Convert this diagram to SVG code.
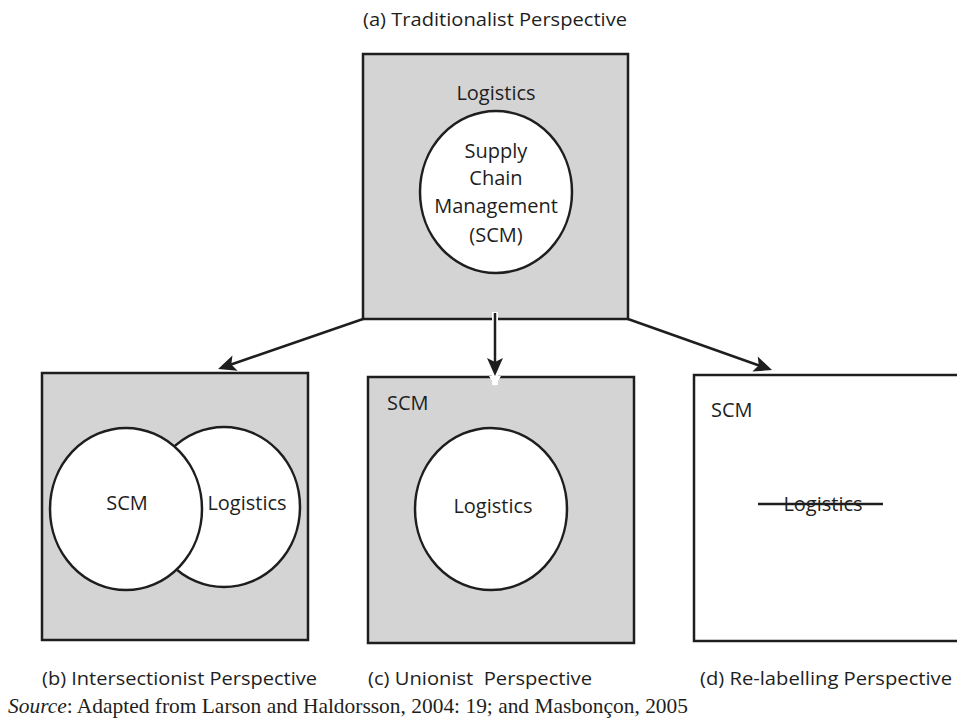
<svg xmlns="http://www.w3.org/2000/svg" width="957" height="718" viewBox="0 0 957 718">
<style>
.box{fill:#d4d4d4;stroke:#1e1e1e;stroke-width:2.5}
.wbox{fill:#ffffff;stroke:#1e1e1e;stroke-width:2.5}
.ell{fill:#ffffff;stroke:#1e1e1e;stroke-width:2.5}
.t{font-family:"Open Sans","Noto Sans",sans-serif;font-size:20px;fill:#1e1e1e}
.lab{font-family:"Open Sans","Noto Sans",sans-serif;font-size:17.5px;fill:#1e1e1e}
.src{font-family:"Liberation Serif","Times New Roman",serif;font-size:22px;fill:#1e1e1e}
.con{stroke:#1e1e1e;stroke-width:2.5;fill:none}
</style>
<defs>
<marker id="ah" viewBox="-10 -10 22 20" markerWidth="22" markerHeight="20" refX="0" refY="0" markerUnits="userSpaceOnUse" orient="auto">
<path d="M10,0 L-8,-8 L-4,0 L-8,8 Z" fill="#1e1e1e"/>
</marker>
</defs>
<rect width="957" height="718" fill="#ffffff"/>
<text class="lab" x="363" y="26" textLength="264" lengthAdjust="spacingAndGlyphs">(a) Traditionalist Perspective</text>
<g id="node-a">
<rect class="box" x="363" y="54" width="265" height="265"/>
<text class="t" x="496" y="100" text-anchor="middle">Logistics</text>
<ellipse class="ell" cx="496" cy="192" rx="76" ry="81"/>
<text class="t" x="496" y="158" text-anchor="middle">Supply</text>
<text class="t" x="496" y="185" text-anchor="middle">Chain</text>
<text class="t" x="496" y="213" text-anchor="middle">Management</text>
<text class="t" x="496" y="242" text-anchor="middle">(SCM)</text>
</g>
<g id="node-b">
<rect class="box" x="42" y="373" width="266" height="267"/>
<ellipse class="ell" cx="224" cy="507" rx="76" ry="80"/>
<ellipse class="ell" cx="126" cy="509" rx="76" ry="81"/>
<text class="t" x="127" y="510" text-anchor="middle">SCM</text>
<text class="t" x="247" y="510" text-anchor="middle">Logistics</text>
</g>
<g id="node-c">
<rect class="box" x="368" y="377" width="266" height="266"/>
<text class="t" x="387" y="410">SCM</text>
<ellipse class="ell" cx="491" cy="509" rx="76" ry="81"/>
<text class="t" x="493" y="513" text-anchor="middle">Logistics</text>
</g>
<g id="node-d">
<rect class="wbox" x="694" y="375" width="275" height="266"/>
<text class="t" x="711" y="417">SCM</text>
<text class="t" x="823" y="511" text-anchor="middle">Logistics</text>
<line x1="758" y1="504" x2="883" y2="504" stroke="#1e1e1e" stroke-width="2.5"/>
</g>
<g id="connectors">
<line x1="495" y1="312" x2="495" y2="385" stroke="#ffffff" stroke-width="6"/>
<path d="M489,376 L495,386 L501,376 Z" fill="#ffffff"/>
<line class="con" x1="363" y1="319" x2="227.5" y2="365.7" marker-end="url(#ah)"/>
<line class="con" x1="495" y1="313" x2="495" y2="366" marker-end="url(#ah)"/>
<line class="con" x1="628" y1="319" x2="762.6" y2="366.7" marker-end="url(#ah)"/>
</g>
<text class="lab" x="42" y="685" textLength="275" lengthAdjust="spacingAndGlyphs">(b) Intersectionist Perspective</text>
<text class="lab" x="368" y="685" textLength="224" lengthAdjust="spacingAndGlyphs" xml:space="preserve">(c) Unionist  Perspective</text>
<text class="lab" x="700" y="685" textLength="252" lengthAdjust="spacingAndGlyphs">(d) Re-labelling Perspective</text>
<text class="src" x="8" y="713" textLength="680" lengthAdjust="spacingAndGlyphs"><tspan font-style="italic">Source</tspan>: Adapted from Larson and Haldorsson, 2004: 19; and Masbonçon, 2005</text>
</svg>
